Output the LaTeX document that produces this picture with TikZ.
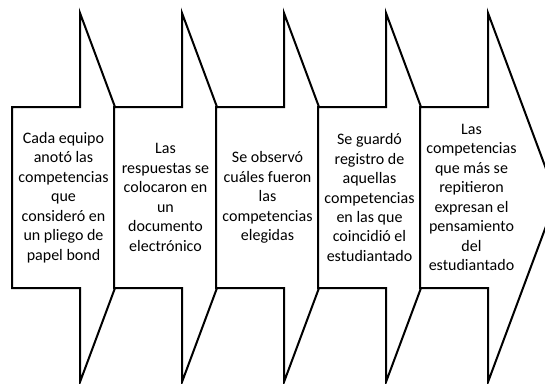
\documentclass[tikz,border=0pt]{standalone}
\usepackage{fontspec}
\setmainfont{Carlito}
\usepackage{tikz}
\usetikzlibrary{math}

\tikzset{
	stepshape/.style={draw=black, fill=white, line width=1.5pt, line join=miter},
	steptext/.style={align=center, inner sep=0pt, font=\fontsize{12}{14.6}\selectfont}
}

\begin{document}
\begin{tikzpicture}[x=0.75pt,y=-0.75pt]
\useasboundingbox (0,0) rectangle (545,383);
\clip (0,0) rectangle (545,383);
\tikzmath{
	\ya = 107;\yb = 288;\ym = 197.5;
	\ha = 13;\hb = 382;
	\w = 68;\h = 68.7;\st = 102;
	% five arrows, each one covers the head of the last
	for \i in {0,...,4}{
		\xl = 12+\i*\st;\xn = \xl+\w;
		{\draw[stepshape] plot[] coordinates {(\xl,\ya) (\xn,\ya) (\xn,\ha) (\xn+\h,\ym) (\xn,\hb) (\xn,\yb) (\xl,\yb)} -- cycle;};
	};
};
%
\node[steptext] (ta) at (63.5,197.5) {Cada equipo\\anotó las\\competencias\\que\\consideró en\\un pliego de\\papel bond};
\node[steptext] (tb) at (165.5,197.5) {Las\\respuestas se\\colocaron en\\un\\documento\\electrónico};
\node[steptext] (tc) at (267.5,197.5) {Se observó\\cuáles fueron\\las\\competencias\\elegidas};
\node[steptext] (td) at (369.5,197.5) {Se guardó\\registro de\\aquellas\\competencias\\en las que\\coincidió el\\estudiantado};
\node[steptext] (te) at (471.5,197.5) {Las\\competencias\\que más se\\repitieron\\expresan el\\pensamiento\\del\\estudiantado};
\end{tikzpicture}
\end{document}
